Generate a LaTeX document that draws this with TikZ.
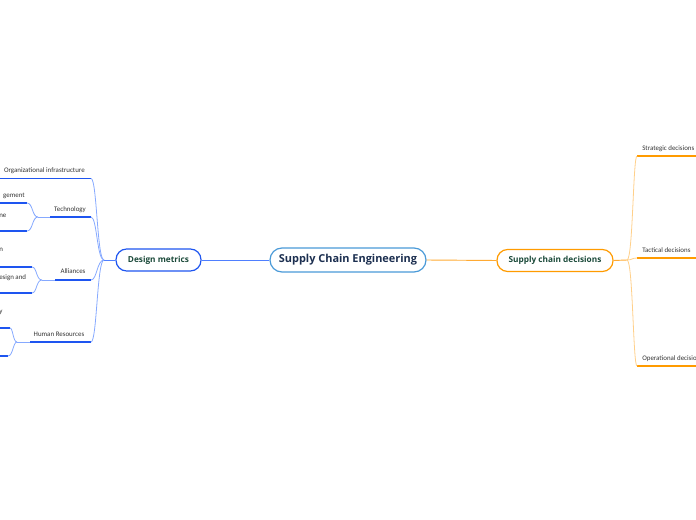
\documentclass[tikz,border=0pt]{standalone}
\usepackage{fontspec}
\setmainfont{Open Sans}
\newfontfamily\smallfont{Carlito}
\begin{document}
\begin{tikzpicture}[x=0.75pt,y=-0.75pt,
  rootbox/.style={draw=rootblue,line width=0.9pt,rounded corners=9pt,fill=white,minimum width=117pt,minimum height=18pt,inner sep=0pt,font=\fontsize{8.2}{9}\selectfont\bfseries,text=rootnavy},
  mainbox/.style={line width=0.9pt,rounded corners=8pt,fill=white,minimum height=16.5pt,inner sep=0pt,font=\fontsize{6.2}{7}\selectfont\bfseries,text=darkgreen},
  lbl/.style={font=\smallfont\fontsize{5.2}{6}\selectfont,text=txtgray,inner sep=0pt},
  bcurve/.style={draw=lightblue,line width=0.6pt},
  bline/.style={draw=strongblue,line width=1.4pt},
  ocurve/.style={draw=lightorange,line width=0.6pt},
  oline/.style={draw=strongorange,line width=1.4pt},
  bconn/.style={draw=connblue,line width=0.7pt},
  oconn/.style={draw=connorange,line width=0.7pt}]
\definecolor{rootblue}{HTML}{4A9AD8}
\definecolor{rootnavy}{HTML}{1C2F50}
\definecolor{darkgreen}{HTML}{1B4A3A}
\definecolor{txtgray}{HTML}{333333}
\definecolor{lightblue}{HTML}{86A9FF}
\definecolor{strongblue}{HTML}{1E55F0}
\definecolor{mainblue}{HTML}{1E55F0}
\definecolor{connblue}{HTML}{4F7FFF}
\definecolor{connorange}{HTML}{FFAA33}
\definecolor{lightorange}{HTML}{FFD08A}
\definecolor{strongorange}{HTML}{FF9B00}
\useasboundingbox (0,0) rectangle (696,520);

% main nodes
\node[rootbox] (root) at (348,260) {Supply Chain Engineering};
\node[mainbox,draw=mainblue,minimum width=63.75pt] (dm) at (158.5,260) {Design metrics};
\node[mainbox,draw=strongorange,minimum width=87pt] (scd) at (555,260.5) {Supply chain decisions};

\draw[bconn] (root.west) -- (dm.east);
\draw[oconn] (root.east) -- (scd.west);

% left hub
\coordinate (lhub) at (104,260);
\draw[bconn] (dm.west) -- (lhub);

% Organizational infrastructure
\node[lbl,anchor=base east] (org) at (85,173) {Organizational infrastructure};
\coordinate (orgR) at (91,178.5);
\coordinate (orgL) at (-2,178.5);
\draw[bline] (orgL) -- (orgR);
\draw[bcurve] (lhub) .. controls (97,260) and (97,178.5) .. (orgR);

% Technology
\node[lbl,anchor=base] (tech) at (70,212) {Technology};
\coordinate (techR) at (91,217);
\coordinate (techL) at (50,217);
\coordinate (techhub) at (38,217);
\draw[bline] (techL) -- (techR);
\draw[bcurve] (techhub) -- (techL);
\draw[bcurve] (lhub) .. controls (97,260) and (97,217) .. (techR);
\node[lbl,anchor=base east] (t1) at (25,198) {gement};
\coordinate (t1R) at (27,203);
\coordinate (t1L) at (-2,203);
\draw[bline] (t1L) -- (t1R);
\draw[bcurve] (techhub) .. controls (32,217) and (33,203) .. (t1R);
\node[lbl,anchor=base west] (t2) at (-1,218) {ne};
\coordinate (t2R) at (27,231);
\coordinate (t2L) at (-2,231);
\draw[bline] (t2L) -- (t2R);
\draw[bcurve] (techhub) .. controls (32,217) and (33,231) .. (t2R);

% Alliances
\node[lbl,anchor=base] (all) at (73,274) {Alliances};
\coordinate (allR) at (91,280);
\coordinate (allL) at (55,280);
\coordinate (allhub) at (42,280);
\draw[bline] (allL) -- (allR);
\draw[bcurve] (allhub) -- (allL);
\draw[bcurve] (lhub) .. controls (97,260) and (97,280) .. (allR);
\node[lbl,anchor=base west] (a1) at (-1,252) {n};
\coordinate (a1R) at (32,267);
\coordinate (a1L) at (-2,267);
\draw[bline] (a1L) -- (a1R);
\draw[bcurve] (allhub) .. controls (36,280) and (37,267) .. (a1R);
\node[lbl,anchor=base west] (a2) at (-1,280) {esign and};
\coordinate (a2R) at (32,293);
\coordinate (a2L) at (-2,293);
\draw[bline] (a2L) -- (a2R);
\draw[bcurve] (allhub) .. controls (36,280) and (37,293) .. (a2R);

% Human Resources
\node[lbl,anchor=base] (hr) at (59,336) {Human Resources};
\coordinate (hrR) at (91,342);
\coordinate (hrL) at (30,342);
\coordinate (hrhub) at (17,342);
\draw[bline] (hrL) -- (hrR);
\draw[bcurve] (hrhub) -- (hrL);
\draw[bcurve] (lhub) .. controls (97,260) and (97,342) .. (hrR);
\node[lbl,anchor=base west] (h1) at (-1,314) {y};
\coordinate (h1R) at (10,328);
\coordinate (h1L) at (-2,328);
\draw[bline] (h1L) -- (h1R);
\draw[bcurve] (hrhub) .. controls (13,342) and (13,328) .. (h1R);
\coordinate (h2R) at (8,356);
\coordinate (h2L) at (-2,356);
\draw[bline] (h2L) -- (h2R);
\draw[bcurve] (hrhub) .. controls (13,342) and (13,356) .. (h2R);

% right hub
\coordinate (rhub) at (627,260);
\draw[oconn] (scd.east) -- (rhub);

\node[lbl,anchor=base west] (sd) at (642,151) {Strategic decisions};
\coordinate (sdL) at (637,156);
\coordinate (sdR) at (700,156);
\draw[oline] (sdL) -- (sdR);
\draw[ocurve] (rhub) .. controls (633,260) and (633,156) .. (sdL);

\node[lbl,anchor=base west] (td) at (642,253) {Tactical decisions};
\coordinate (tdL) at (637,258);
\coordinate (tdR) at (700,258);
\draw[oline] (tdL) -- (tdR);
\draw[ocurve] (rhub) .. controls (632,260) and (632,258) .. (tdL);

\node[lbl,anchor=base west] (od) at (642,360) {Operational decisions};
\coordinate (odL) at (637,366);
\coordinate (odR) at (700,366);
\draw[oline] (odL) -- (odR);
\draw[ocurve] (rhub) .. controls (633,260) and (633,366) .. (odL);
\end{tikzpicture}
\end{document}
